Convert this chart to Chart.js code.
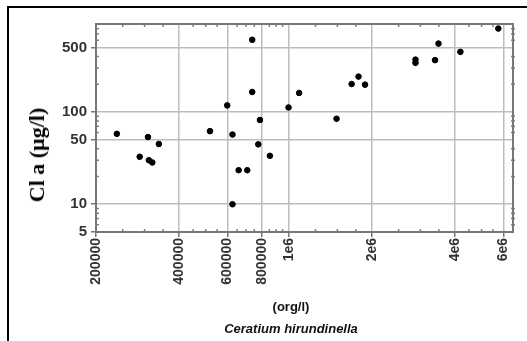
<!DOCTYPE html>
<html>
<head>
<meta charset="utf-8">
<script src="https://cdn.jsdelivr.net/npm/chart.js@4"></script>
<style>
  body { margin: 0; background: #fff; }
  #wrap { position: relative; width: 527px; height: 341px; overflow: hidden; }
  #frame { position: absolute; left: 7px; top: 6px; width: 530px; height: 350px;
           border-left: 2px solid #000; border-top: 2px solid #000; }
  canvas { position: absolute; left: 0; top: 0; }
  .ylab { position: absolute; left: 37px; top: 155px; transform: translate(-50%, -50%) rotate(-90deg);
          font: bold 22px "Liberation Serif", serif; white-space: nowrap; color: #000; }
  .xlab { position: absolute; left: 291px; transform: translateX(-50%); white-space: nowrap;
          font-family: "Liberation Sans", Arial, sans-serif; font-weight: bold; font-size: 13px; color: #111; }
</style>
</head>
<body>
<div id="wrap">
  <div id="frame"></div>
  <canvas id="myChart" width="527" height="341"></canvas>
  <div class="ylab">Cl a (µg/l)</div>
  <div class="xlab" style="top:299px">(org/l)</div>
  <div class="xlab" style="top:321px;font-style:italic">Ceratium hirundinella</div>
</div>
<script>
// Ceratium hirundinella density (org/l) vs chlorophyll a (µg/l)
var cells = [238000, 288000, 308600, 311000, 320000, 338000, 518000, 598000, 625000, 625000,
             658000, 707000, 737000, 737000, 775000, 786000, 854000, 998000, 1090000, 1490000,
             1690000, 1790000, 1890000, 2880000, 2880000, 3390000, 3490000, 4190000, 5750000];
var chla = [58, 32.7, 53.5, 30, 28.4, 45, 62, 118, 57, 10,
            23.4, 23.4, 607, 165, 44.6, 82, 33.5, 112, 161, 84.5,
            201, 242, 198, 370, 341, 365, 552, 449, 804];

var xTicks = [200000, 400000, 600000, 800000, 1000000, 2000000, 4000000, 6000000];
var xTickLabels = ["200000", "400000", "600000", "800000", "1e6", "2e6", "4e6", "6e6"];
var xMinor = [250000, 300000, 350000, 450000, 500000, 550000, 650000, 700000, 750000,
              850000, 900000, 950000, 1250000, 1500000, 1750000, 2500000, 3000000, 3500000,
              4500000, 5000000, 5500000];
var yTicks = [5, 10, 50, 100, 500];
var yTickLabels = ["5", "10", "50", "100", "500"];
var yMinor = [6, 7, 8, 9, 20, 30, 40, 60, 70, 80, 90, 200, 300, 400, 600, 700, 800];

// frame + small inside ticks
var framePlugin = {
  id: "frame",
  afterDraw: function (chart) {
    var ctx = chart.ctx, a = chart.chartArea;
    var xs = chart.scales.x, ys = chart.scales.y;
    ctx.save();
    ctx.strokeStyle = "#808080";
    ctx.lineWidth = 1.5;
    ctx.beginPath();
    xMinor.forEach(function (v) {
      var px = xs.getPixelForValue(v);
      ctx.moveTo(px, a.bottom); ctx.lineTo(px, a.bottom - 3);
      ctx.moveTo(px, a.top); ctx.lineTo(px, a.top + 3);
    });
    yMinor.forEach(function (v) {
      var py = ys.getPixelForValue(v);
      ctx.moveTo(a.left, py); ctx.lineTo(a.left + 3, py);
      ctx.moveTo(a.right - 2, py); ctx.lineTo(a.right + 2, py);
    });
    ctx.stroke();
    ctx.strokeStyle = "#777";
    ctx.lineWidth = 2;
    ctx.strokeRect(a.left, a.top, a.right - a.left, a.bottom - a.top);
    ctx.restore();
  }
};

function createChart() {
  var ctx = document.getElementById("myChart").getContext("2d");
  new Chart(ctx, {
    type: "scatter",
    data: {
      datasets: [{
        data: cells.map(function (c, i) { return { x: c, y: chla[i] }; }),
        backgroundColor: "#000",
        borderColor: "#000",
        pointRadius: 2.8,
        pointHoverRadius: 2.8
      }]
    },
    options: {
      responsive: false,
      animation: false,
      layout: { padding: { left: 46, right: 14, top: 24, bottom: 9 } },
      plugins: { legend: { display: false }, tooltip: { enabled: false } },
      scales: {
        x: {
          type: "logarithmic",
          min: 200000,
          max: 6500000,
          afterBuildTicks: function (s) { s.ticks = xTicks.map(function (v) { return { value: v }; }); },
          afterFit: function (s) { s.height = 100; },
          ticks: {
            autoSkip: false,
            minRotation: 90,
            maxRotation: 90,
            padding: 1,
            color: "#333",
            font: { family: "Liberation Sans", size: 14, weight: "bold" },
            callback: function (v) { var i = xTicks.indexOf(v); return i < 0 ? "" : xTickLabels[i]; }
          },
          grid: { color: "#bdbdbd", lineWidth: 1.5, tickLength: 5, tickColor: "#777" },
          border: { display: false }
        },
        y: {
          type: "logarithmic",
          min: 5,
          max: 900,
          afterBuildTicks: function (s) { s.ticks = yTicks.map(function (v) { return { value: v }; }); },
          afterFit: function (s) { s.width = 50; },
          ticks: {
            autoSkip: false,
            padding: 4,
            color: "#333",
            font: { family: "Liberation Sans", size: 15, weight: "bold" },
            callback: function (v) { var i = yTicks.indexOf(v); return i < 0 ? "" : yTickLabels[i]; }
          },
          grid: { color: "#bdbdbd", lineWidth: 1.5, tickLength: 5, tickColor: "#777" },
          border: { display: false }
        }
      }
    },
    plugins: [framePlugin]
  });
}
createChart();
</script>
</body>
</html>
